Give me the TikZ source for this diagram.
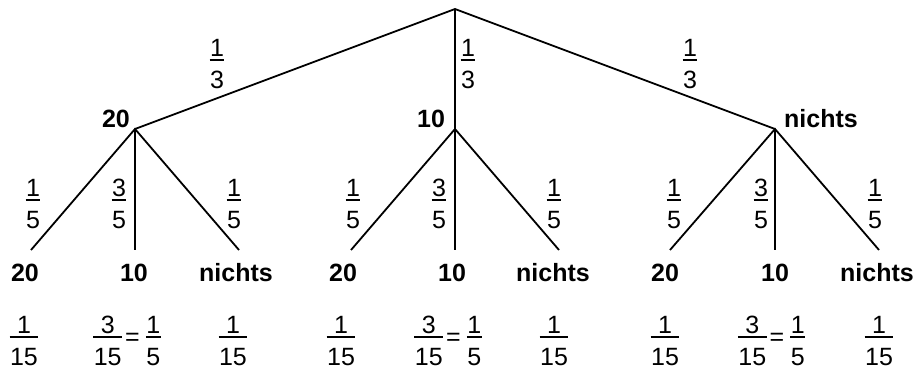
\documentclass[tikz,border=0pt]{standalone}
\usepackage{fontspec}
\setmainfont{Liberation Sans}
\setlength{\arrayrulewidth}{1.4pt}
\renewcommand{\arraystretch}{1}
\newcommand\fr[2]{\begin{tabular}{@{\hspace{0.5pt}}c@{\hspace{0.5pt}}}#1\\[-6.5pt]\hline\rule{0pt}{28pt}#2\end{tabular}}
\newcommand\eqfr{\fr{3}{15}\hspace{3pt}\raisebox{4.25pt}{=}\hspace{6pt}\fr{1}{5}}
\begin{document}
\begin{tikzpicture}[x=1pt,y=1pt,
  every node/.style={font=\fontsize{25}{30}\selectfont, inner sep=0pt},
  edge/.style={line width=1.8pt, black},
  lab/.style={font=\fontsize{25}{30}\selectfont\bfseries, anchor=base},
  frc/.style={yshift=-6.75pt}]
\useasboundingbox (0,0) rectangle (917,370);
% tree vertices
\coordinate (R) at (455,361);
\coordinate (A) at (135,241);
\coordinate (B) at (455,241);
\coordinate (C) at (775,241);
\coordinate (A1) at (31,120);
\coordinate (A2) at (135,120);
\coordinate (A3) at (239,120);
\coordinate (B1) at (351,120);
\coordinate (B2) at (455,120);
\coordinate (B3) at (559,120);
\coordinate (C1) at (670,120);
\coordinate (C2) at (775,120);
\coordinate (C3) at (879,120);
% edges
\draw[edge] (A) -- (R) -- (C);
\draw[edge] (R) -- (B);
\draw[edge] (A1) -- (A) -- (A3);
\draw[edge] (A) -- (A2);
\draw[edge] (B1) -- (B) -- (B3);
\draw[edge] (B) -- (B2);
\draw[edge] (C1) -- (C) -- (C3);
\draw[edge] (C) -- (C2);
% level 1 labels
\node[lab] (lA) at (116,243) {20};
\node[lab] (lB) at (431,243) {10};
\node[lab] (lC) at (821,243) {nichts};
% leaf labels
\node[lab] (lA1) at (25,89) {20};
\node[lab] (lA2) at (134,89) {10};
\node[lab] (lA3) at (236,89) {nichts};
\node[lab] (lB1) at (343,89) {20};
\node[lab] (lB2) at (452,89) {10};
\node[lab] (lB3) at (553,89) {nichts};
\node[lab] (lC1) at (665,89) {20};
\node[lab] (lC2) at (775,89) {10};
\node[lab] (lC3) at (877,89) {nichts};
% first level probabilities
\node[frc] (pA) at (217,310) {\fr{1}{3}};
\node[frc] (pB) at (468,310) {\fr{1}{3}};
\node[frc] (pC) at (690,310) {\fr{1}{3}};
% second level probabilities
\node[frc] (pA1) at (33,170) {\fr{1}{5}};
\node[frc] (pA2) at (119,170) {\fr{3}{5}};
\node[frc] (pA3) at (234,170) {\fr{1}{5}};
\node[frc] (pB1) at (353,170) {\fr{1}{5}};
\node[frc] (pB2) at (439,170) {\fr{3}{5}};
\node[frc] (pB3) at (554,170) {\fr{1}{5}};
\node[frc] (pC1) at (674,170) {\fr{1}{5}};
\node[frc] (pC2) at (761,170) {\fr{3}{5}};
\node[frc] (pC3) at (875,170) {\fr{1}{5}};
% path probabilities
\node[frc] (qA1) at (24,33) {\fr{1}{15}};
\node[frc] (qA2) at (127,33) {\eqfr};
\node[frc] (qA3) at (233,33) {\fr{1}{15}};
\node[frc] (qB1) at (341,33) {\fr{1}{15}};
\node[frc] (qB2) at (448,33) {\eqfr};
\node[frc] (qB3) at (554,33) {\fr{1}{15}};
\node[frc] (qC1) at (665,33) {\fr{1}{15}};
\node[frc] (qC2) at (771.5,33) {\eqfr};
\node[frc] (qC3) at (879,33) {\fr{1}{15}};
\end{tikzpicture}
\end{document}
